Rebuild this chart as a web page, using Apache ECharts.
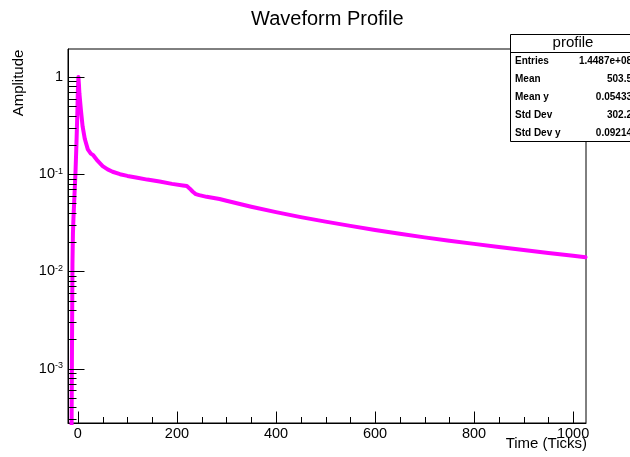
<!DOCTYPE html>
<html><head><meta charset="utf-8">
<script src="https://cdn.jsdelivr.net/npm/echarts@6/dist/echarts.min.js"></script>
<style>html,body{margin:0;padding:0;background:#fff}#c{width:630px;height:457px}</style>
</head><body><div id="c"></div>
<script>
// ---- data ----
const timeTicks = [-14,-13,-12,-11,-10,-9,-7,-5,-3,-1,0,1,2,3,6,9.5,14,20,26,31,35,40,50,60,70,85,100,120,140,165,190,212,220,226,232,238,245,260,286,300,350,400,450,500,550,600,650,700,750,800,850,900,950,1000,1025];
const amplitude = [1e-5,1.5e-4,1.5e-3,0.012,0.025,0.035,0.06,0.1,0.2,0.45,0.75,1.0,0.85,0.68,0.46,0.31,0.23,0.18,0.163,0.157,0.15,0.137,0.121,0.112,0.106,0.1,0.096,0.092,0.088,0.084,0.0795,0.0765,0.0755,0.071,0.066,0.0625,0.061,0.0585,0.0555,0.0533,0.0463,0.0407,0.0362,0.0325,0.0294,0.0267,0.0244,0.0224,0.0207,0.0192,0.0178,0.0166,0.0155,0.0145,0.0140];
const xTickLabels = [0,200,400,600,800,1000];
const yDecades = [-3,-2,-1,0];
const statsLabels = ['Entries','Mean','Mean y','Std Dev','Std Dev y'];
const statsValues = ['1.4487e+08','503.5','0.05433','302.2','0.09214'];
const titleText = 'Waveform Profile';
const xTitle = 'Time (Ticks)';
const yTitle = 'Amplitude';
const statsTitle = 'profile';

// ---- chart ----
const X_MIN = -20, X_MAX = 1026, Y_MIN = 2.76e-4, Y_MAX = 1.94;
const FONT = 'Liberation Sans';
const chart = echarts.init(document.getElementById('c'), null, {renderer: 'canvas'});

function isPow10(v) {
  const e = Math.log10(v);
  return Math.abs(e - Math.round(e)) < 1e-6 && yDecades.includes(Math.round(e));
}

const option = {
  animation: false,
  backgroundColor: '#fff',
  title: {
    text: titleText, left: 246, top: 4,
    textStyle: {fontFamily: FONT, fontSize: 20, fontWeight: 'normal', color: '#000'}
  },
  grid: {left: 68, right: 44, top: 49, bottom: 34, show: true, borderColor: '#000', borderWidth: 1, backgroundColor: '#fff', containLabel: false},
  xAxis: {
    type: 'value', min: X_MIN, max: X_MAX, interval: 10,
    axisLine: {show: true, onZero: false, lineStyle: {color: '#000', width: 1}},
    axisTick: {show: false}, splitLine: {show: false}, minorTick: {show: false},
    axisLabel: {
      margin: 3, fontFamily: FONT, fontSize: 14.5, color: '#000',
      showMinLabel: true, showMaxLabel: true,
      formatter: function (v) {
        const r = Math.round(v);
        return (Math.abs(v - r) < 1e-6 && xTickLabels.includes(r)) ? String(r) : '';
      }
    }
  },
  yAxis: {
    type: 'log', logBase: 10, min: Y_MIN, max: Y_MAX,
    axisLine: {show: true, onZero: false, lineStyle: {color: '#000', width: 1}},
    axisTick: {show: false}, splitLine: {show: false}, minorTick: {show: false},
    axisLabel: {
      margin: 5, color: '#000',
      formatter: function (v) {
        if (!isPow10(v)) return '';
        const e = Math.round(Math.log10(v));
        if (e === 0) return '{b|1}';
        return '{b|10}{s|' + e + '}';
      },
      rich: {
        b: {fontFamily: FONT, fontSize: 14.5, color: '#000'},
        s: {fontFamily: FONT, fontSize: 9, color: '#000', verticalAlign: 'top'}
      }
    }
  },
  series: [{
    type: 'line',
    data: timeTicks.map((t, i) => [t, amplitude[i]]),
    showSymbol: false, symbol: 'none', clip: true,
    lineStyle: {color: '#ff00ff', width: 4, join: 'round', cap: 'round'},
    itemStyle: {color: '#ff00ff'},
    emphasis: {disabled: true}
  }]
};
chart.setOption(option);

// ---- ticks, titles, stats box (graphic placed through axis scales) ----
const px = t => chart.convertToPixel({xAxisIndex: 0}, t);
const py = v => chart.convertToPixel({yAxisIndex: 0}, v);
const crisp = a => Math.round(a) + 0.5;
const g = [];
const xLeft = crisp(px(X_MIN)), yBottom = crisp(py(Y_MIN));
const xMajor = 200, xMinor = 50;
for (let t = 0; t <= X_MAX; t += xMinor) {
  const len = (t % xMajor === 0) ? 12 : 6.5;
  const x = crisp(px(t));
  g.push({type: 'line', silent: true, z: 50, shape: {x1: x, y1: yBottom, x2: x, y2: yBottom - len}, style: {stroke: '#000', lineWidth: 1}});
}
for (let k = -4; k <= 0; k++) {
  for (let m = 1; m <= 9; m++) {
    const v = m * Math.pow(10, k);
    if (v < Y_MIN || v > Y_MAX) continue;
    const y = crisp(py(v));
    const len = (m === 1) ? 16 : 8;
    g.push({type: 'line', silent: true, z: 50, shape: {x1: xLeft, y1: y, x2: xLeft + len, y2: y}, style: {stroke: '#000', lineWidth: 1}});
  }
}
// axis titles
g.push({type: 'text', silent: true, z: 60, x: 19, y: 83, rotation: Math.PI / 2,
  style: {text: yTitle, x: 0, y: 0, align: 'center', verticalAlign: 'middle', fontFamily: FONT, fontSize: 15, fill: '#000'}});
g.push({type: 'text', silent: true, z: 60,
  style: {text: xTitle, x: crisp(px(X_MAX)) + 0.5, y: 444, align: 'right', verticalAlign: 'middle', fontFamily: FONT, fontSize: 15, fill: '#000'}});
// stats box
const bx = 510.5, by = 34.5, bw = 140, bh = 107, rowH = 18, row0 = 61;
g.push({type: 'rect', silent: true, z: 100, shape: {x: bx, y: by, width: bw, height: bh}, style: {fill: '#fff', stroke: '#000', lineWidth: 1}});
g.push({type: 'line', silent: true, z: 101, shape: {x1: bx, y1: 52.5, x2: bx + bw, y2: 52.5}, style: {stroke: '#000', lineWidth: 1}});
g.push({type: 'text', silent: true, z: 101, style: {text: statsTitle, x: 573, y: 43, align: 'center', verticalAlign: 'middle', fontFamily: FONT, fontSize: 15, fill: '#000'}});
statsLabels.forEach((lab, i) => {
  g.push({type: 'text', silent: true, z: 101, style: {text: lab, x: 515, y: row0 + i * rowH, align: 'left', verticalAlign: 'middle', fontFamily: FONT, fontSize: 10, fontWeight: 'bold', fill: '#000'}});
  g.push({type: 'text', silent: true, z: 101, style: {text: statsValues[i], x: 632, y: row0 + i * rowH, align: 'right', verticalAlign: 'middle', fontFamily: FONT, fontSize: 10, fontWeight: 'bold', fill: '#000'}});
});
chart.setOption({graphic: g});
</script>
</body></html>
